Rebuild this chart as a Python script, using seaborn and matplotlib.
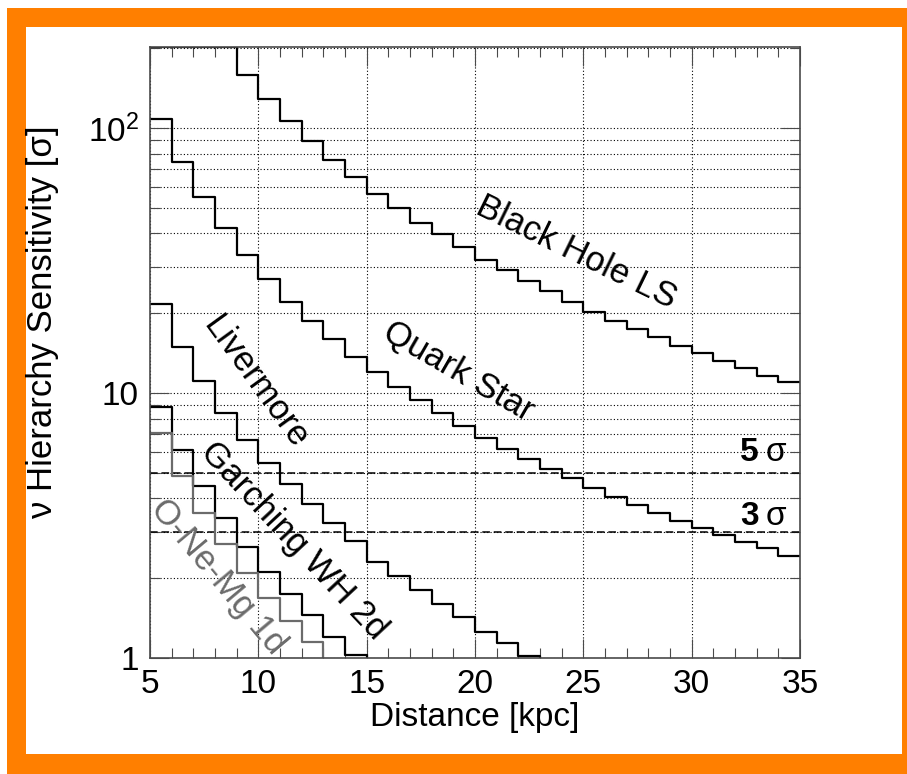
import numpy as np
import pandas as pd
import matplotlib
matplotlib.use("Agg")
import matplotlib.pyplot as plt
import matplotlib.ticker as mticker
from matplotlib.patches import Rectangle
import seaborn as sns

# ---------------- data (1 kpc bins, first bin starts at 5 kpc) ----------------
bin_start = 5
# values at the frame top (202) are off scale in the picture
black_hole_ls = [202, 202, 202, 202, 158.5, 128.6, 106.3, 89.3, 75.7, 65.3, 56.4,
                 49.9, 43.8, 39.8, 35.6, 31.8, 29.1, 26.5, 24.3, 22.0, 20.2, 18.7,
                 17.4, 16.3, 15.0, 14.2, 13.2, 12.4, 11.6, 11.0]
quark_star = [108.1, 74.4, 54.9, 41.9, 33.2, 26.9, 22.0, 18.7, 16.0, 13.7, 12.0,
              10.5, 9.41, 8.41, 7.51, 6.76, 6.15, 5.64, 5.17, 4.78, 4.38, 4.05,
              3.78, 3.53, 3.29, 3.09, 2.91, 2.74, 2.60, 2.43]
livermore = [21.7, 14.9, 11.1, 8.41, 6.65, 5.44, 4.54, 3.81, 3.23, 2.76, 2.30,
             2.04, 1.81, 1.60, 1.43, 1.25, 1.14, 1.02, 0.92]
garching_wh_2d = [8.86, 6.10, 4.46, 3.38, 2.62, 2.11, 1.74, 1.45, 1.20, 1.03, 0.90]
o_ne_mg_1d = [7.07, 4.86, 3.53, 2.69, 2.09, 1.68, 1.38, 1.15, 0.96]

series_names = ["Black Hole LS", "Quark Star", "Livermore", "Garching WH 2d", "O-Ne-Mg 1d"]
series_values = [black_hole_ls, quark_star, livermore, garching_wh_2d, o_ne_mg_1d]
series_colors = ["black", "black", "black", "black", "#6b6b6b"]

sigma_levels = [5, 3]
sigma_labels = ["5", "3"]

x_limits = (5, 35)
y_limits = (1, 202)

# long-form table for seaborn (last value repeated at the right bin edge)
rows = []
for name, vals in zip(series_names, series_values):
    edges = bin_start + np.arange(len(vals) + 1)
    ys = list(vals) + [vals[-1]]
    for d, v in zip(edges, ys):
        rows.append({"model": name, "distance": float(d), "sensitivity": float(v)})
df = pd.DataFrame(rows)

# ---------------- style ----------------
sns.set_theme(style="ticks")
plt.rcParams["font.family"] = ["Liberation Sans", "DejaVu Sans"]
plt.rcParams["text.color"] = "black"
plt.rcParams["axes.labelcolor"] = "black"
plt.rcParams["mathtext.fontset"] = "custom"
plt.rcParams["mathtext.rm"] = "Liberation Sans"
plt.rcParams["mathtext.bf"] = "Liberation Sans:bold"
plt.rcParams["mathtext.it"] = "Liberation Sans:italic"

W, H = 907, 774
fig = plt.figure(figsize=(W / 100, H / 100), dpi=100, facecolor="white")

# orange frame
fig.patches.append(Rectangle((7 / W, 0), 900 / W, 766 / H, transform=fig.transFigure,
                             facecolor="#ff7f00", edgecolor="none", zorder=-20))
fig.patches.append(Rectangle((26 / W, 20 / H), 876 / W, 727 / H, transform=fig.transFigure,
                             facecolor="white", edgecolor="none", zorder=-19))

ax = fig.add_axes([150 / W, 116 / H, 650 / W, 611 / H])
ax.set_facecolor("white")

sns.lineplot(data=df, x="distance", y="sensitivity", hue="model",
             hue_order=series_names, palette=dict(zip(series_names, series_colors)),
             drawstyle="steps-post", estimator=None, sort=True, linewidth=1.6,
             legend=False, ax=ax, zorder=5)

for lvl in sigma_levels:
    ax.axhline(lvl, color="black", lw=1.1, dashes=(5, 2.5), zorder=4)

ax.set_yscale("log")
ax.set_xlim(*x_limits)
ax.set_ylim(*y_limits)

ax.xaxis.set_major_locator(mticker.MultipleLocator(5))
ax.xaxis.set_minor_locator(mticker.MultipleLocator(1))
ax.yaxis.set_major_locator(mticker.LogLocator(base=10, numticks=10))
ax.yaxis.set_minor_locator(mticker.LogLocator(base=10, subs=np.arange(2, 10), numticks=20))
ax.yaxis.set_minor_formatter(mticker.NullFormatter())


def yfmt(v, pos):
    if np.isclose(v, 1):
        return "1"
    if np.isclose(v, 10):
        return "10"
    if np.isclose(v, 100):
        return r"$\mathregular{10^{2}}$"
    return ""


ax.yaxis.set_major_formatter(mticker.FuncFormatter(yfmt))

ax.grid(which="major", axis="x", color="black", lw=0.8, ls=(0, (1, 2)))
ax.grid(which="both", axis="y", color="black", lw=0.8, ls=(0, (1, 2)))
ax.set_axisbelow(True)

spine_col = "#4a4a4a"
for s in ax.spines.values():
    s.set_color(spine_col)
    s.set_linewidth(1.2)
    s.set_zorder(6)

ax.tick_params(which="both", direction="in", top=True, right=True, colors=spine_col,
               labelcolor="black", labelsize=24, width=0.8)
ax.tick_params(which="major", length=13.5, pad=8)
ax.tick_params(which="minor", length=7)

ax.set_xlabel("Distance [kpc]", fontsize=24, color="black")
ax.set_ylabel("ν Hierarchy Sensitivity [σ]", fontsize=25, color="black")
ax.xaxis.set_label_coords(0.5, -0.097)
ax.xaxis.label.set_verticalalignment("center")
ax.yaxis.set_label_coords(-0.166, 0.55)
ax.yaxis.label.set_verticalalignment("center")

# curve labels
label_specs = [
    ("Black Hole LS", 24.7, 33.8, -26, "black"),
    ("Quark Star", 19.26, 12.1, -30, "black"),
    ("Livermore", 9.85, 11.0, -54, "black"),
    ("Garching WH 2d", 11.65, 2.76, -47, "black"),
    ("O-Ne-Mg 1d", 8.14, 2.02, -50, "#6b6b6b"),
]
for txt, x, y, rot, col in label_specs:
    ax.text(x, y, txt, rotation=rot, rotation_mode="anchor", ha="center", va="center",
            fontsize=25, color=col, zorder=7)

# sigma labels
for lvl, lab, yb in zip(sigma_levels, sigma_labels, [5.54, 3.18]):
    ax.text(33.1, yb, lab, fontsize=24, fontweight="bold", color="black",
            ha="right", va="baseline", zorder=7)
    ax.text(33.4, yb, "σ", fontsize=24, color="black", ha="left", va="baseline", zorder=7)

fig.savefig("out.png", dpi=100, facecolor="white")
